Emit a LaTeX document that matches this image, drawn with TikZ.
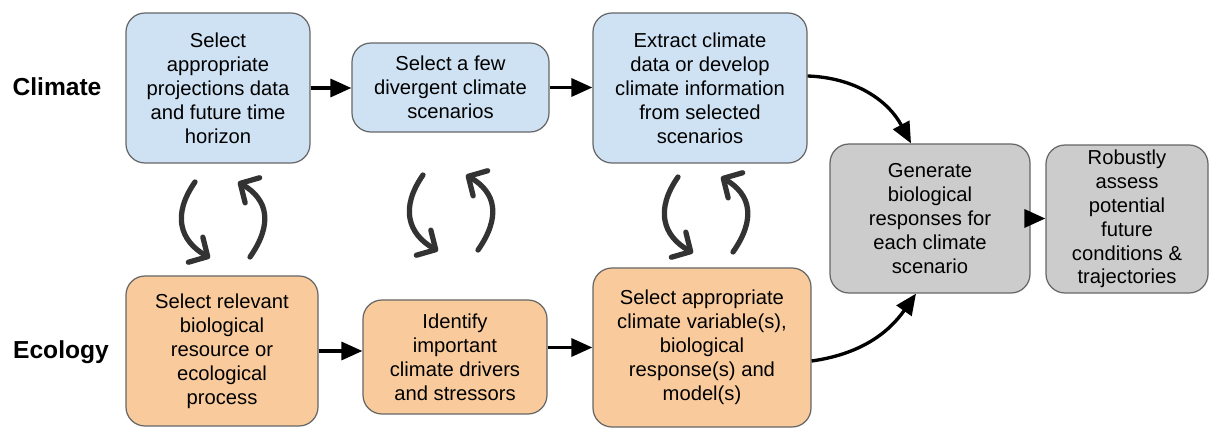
\documentclass[tikz,border=0pt]{standalone}
\usepackage{fontspec}
\setmainfont{Liberation Sans}
\usetikzlibrary{arrows.meta,calc}

\definecolor{climateblue}{HTML}{CFE2F3}
\definecolor{ecologyorange}{HTML}{F9CB9C}
\definecolor{resultgray}{HTML}{CCCCCC}
\definecolor{boxline}{HTML}{666666}
\definecolor{swapdark}{HTML}{333333}

\begin{document}
\begin{tikzpicture}[font=\fontsize{11.5}{13.6}\selectfont,
    box/.style={draw=boxline, line width=0.7pt, rounded corners=0.38cm, align=center, inner sep=0pt},
    climatebox/.style={box, fill=climateblue},
    ecologybox/.style={box, fill=ecologyorange},
    resultbox/.style={box, fill=resultgray},
    rowlabel/.style={font=\fontsize{14}{16}\selectfont\bfseries},
    flow/.style={-{Triangle[length=0.42cm,width=0.36cm]}, line width=1.9pt},
    swaparrow/.style={-{Straight Barb[round,length=0.28cm,width=0.58cm]}, line width=3pt, draw=swapdark, line cap=round}]

            \useasboundingbox (0,0) rectangle (24.18,8.54);

            % row labels
            \node [rowlabel] (climate) at (1.14,6.80) {Climate};
            \node [rowlabel] (ecology) at (1.22,1.50) {Ecology};

            % climate row
            \node [climatebox, minimum width=3.68cm, minimum height=3cm] (select) at (4.36,6.78) {Select\\appropriate\\projections data\\and future time\\horizon};
            \node [climatebox, minimum width=3.94cm, minimum height=1.78cm] (divergent) at (9.01,6.79) {Select a few\\divergent climate\\scenarios};
            \node [climatebox, minimum width=4.28cm, minimum height=3cm] (extract) at (14.0,6.78) {Extract climate\\data or develop\\climate information\\from selected\\scenarios};

            % ecology row
            \node [ecologybox, minimum width=3.84cm, minimum height=3cm] (resource) at (4.44,1.52) {Select relevant\\biological\\resource or\\ecological\\process};
            \node [ecologybox, minimum width=3.68cm, minimum height=2.28cm] (drivers) at (9.1,1.40) {Identify\\important\\climate drivers\\and stressors};
            \node [ecologybox, minimum width=4.36cm, minimum height=3.18cm] (variables) at (14.04,1.59) {Select appropriate\\climate variable(s),\\biological\\response(s) and\\model(s)};

            % results
            \node [resultbox, minimum width=4cm, minimum height=2.98cm] (generate) at (18.6,4.17) {Generate\\biological\\responses for\\each climate\\scenario};
            \node [resultbox, minimum width=3.24cm, minimum height=2.96cm] (assess) at (22.54,4.16) {Robustly\\assess\\potential\\future\\conditions \&\\trajectories};

            % flow arrows
            \draw [flow] (select.east) -- (select.east -| divergent.west);
            \draw [flow] (divergent.east) -- (divergent.east -| extract.west);
            \draw [flow] (resource.east) -- (resource.east -| drivers.west);
            \draw [flow] (variables.west -| drivers.east) -- (variables.west);
            \draw [flow] (generate.east) -- (generate.east -| assess.west);

            \draw [flow] ($(extract.east)+(0,0.24)$) to[out=-2,in=118] ($(generate.north)+(-0.38,0)$);
            \draw [flow] ($(variables.east)+(0,-0.27)$) to[out=8,in=-125] ($(generate.south)+(-0.28,0)$);

            % exchange between rows
            \foreach \dx/\dy in {0/0, 4.56/0.14, 9.66/0.1} {
                \begin{scope}[shift={(\dx,\dy)}]
                    \draw [swaparrow] (3.90,4.90) to[out=235,in=150,out distance=0.8cm,in distance=0.7cm] (4.20,3.38);
                    \draw [swaparrow] (5.00,3.40) to[out=55,in=-30,out distance=0.8cm,in distance=0.7cm] (4.76,4.90);
                \end{scope}
            }

        \end{tikzpicture}
\end{document}
